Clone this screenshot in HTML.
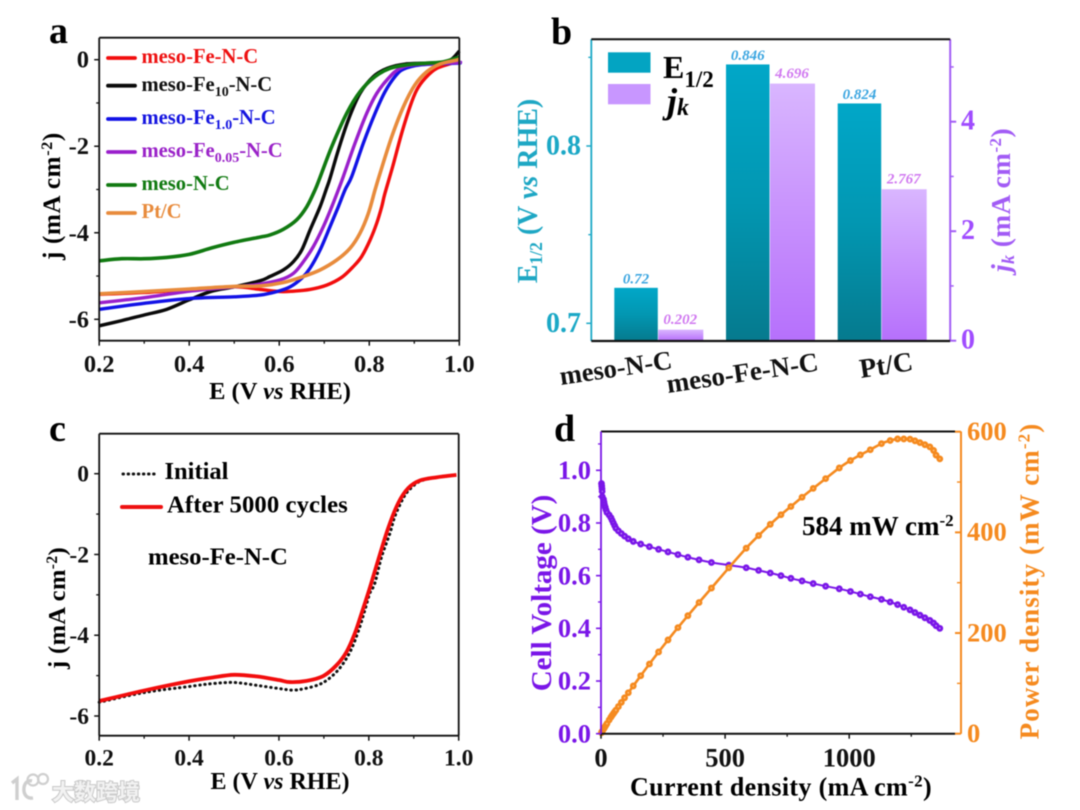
<!DOCTYPE html>
<html lang="en">
<head>
<meta charset="utf-8">
<title>Electrocatalyst performance panels</title>
<style>
html,body{margin:0;padding:0;background:#fff;width:1080px;height:810px;overflow:hidden}
svg{display:block;filter:blur(0.45px)}
text{font-family:"Liberation Serif","Noto Sans CJK SC",serif;font-weight:bold}
</style>
</head>
<body>
<svg id="fig" xmlns="http://www.w3.org/2000/svg" width="1080" height="810" viewBox="0 0 1080 810">
  <defs>
    <linearGradient id="tealGrad" x1="0" y1="0" x2="0" y2="1"><stop offset="0" stop-color="#01a7c8"/><stop offset="0.5" stop-color="#0297b2"/><stop offset="1" stop-color="#067a8e"/></linearGradient>
    <linearGradient id="purpleGrad" x1="0" y1="0" x2="0" y2="1"><stop offset="0" stop-color="#d9b6ff"/><stop offset="0.5" stop-color="#c892fd"/><stop offset="1" stop-color="#b670fc"/></linearGradient>
  </defs>

  <text x="49" y="43" font-size="38">a</text>
  <text x="551" y="44" font-size="38">b</text>
  <text x="49" y="441" font-size="38">c</text>
  <text x="554" y="441" font-size="38">d</text>

  <!-- Panel a static text -->
  <g font-size="20.6">
    <text x="141.5" y="63" fill="#ee1111">meso-Fe-N-C</text>
    <text x="141.5" y="91" fill="#111">meso-Fe<tspan font-size="14" dy="5">10</tspan><tspan dy="-5">-N-C</tspan></text>
    <text x="141.5" y="124" fill="#1414e0">meso-Fe<tspan font-size="14" dy="5">1.0</tspan><tspan dy="-5">-N-C</tspan></text>
    <text x="141.5" y="157" fill="#9a22c8">meso-Fe<tspan font-size="14" dy="5">0.05</tspan><tspan dy="-5">-N-C</tspan></text>
    <text x="141.5" y="190" fill="#117a11">meso-N-C</text>
    <text x="141.5" y="218" fill="#e88b3c">Pt/C</text>
  </g>
  <text x="280" y="399" font-size="24.5" text-anchor="middle">E (V <tspan font-style="italic">vs</tspan> RHE)</text>
  <text transform="translate(60,196) rotate(-90)" font-size="25" letter-spacing="0.7" text-anchor="middle">j (mA cm<tspan font-size="16" dy="-8">-2</tspan><tspan dy="8">)</tspan></text>

  <!-- Panel b static text -->
  <rect x="608" y="52.3" width="42.5" height="20.4" fill="#03a4c2"/>
  <rect x="608" y="84" width="42.5" height="20.3" fill="#c896ff"/>
  <text x="663" y="78" font-size="32">E<tspan font-size="23" dy="9">1/2</tspan></text>
  <text x="667" y="113" font-size="36" font-style="italic">j<tspan font-size="24" dy="2">k</tspan></text>
  <text transform="translate(537,191) rotate(-90)" font-size="28" text-anchor="middle" fill="#1ea7c4">E<tspan font-size="17.5" dy="5">1/2</tspan><tspan dy="-5"> (V </tspan><tspan font-style="italic">vs</tspan> RHE)</text>
  <text transform="translate(1010,200) rotate(-90)" font-size="27.5" letter-spacing="0.4" text-anchor="middle" fill="#a25cf5"><tspan font-style="italic">j</tspan><tspan font-style="italic" font-size="18" dy="4">k</tspan><tspan dy="-4"> (mA cm</tspan><tspan font-size="17" dy="-9">-2</tspan><tspan dy="9">)</tspan></text>

  <!-- Panel c static text -->
  <line x1="123" y1="474" x2="158" y2="474" stroke="#111" stroke-width="3" stroke-linecap="round" stroke-dasharray="0.5 4.6"/>
  <text x="164.5" y="479" font-size="24.5">Initial</text>
  <line x1="122" y1="507" x2="161" y2="507" stroke="#ee1111" stroke-width="4" stroke-linecap="round"/>
  <text x="167" y="512.7" font-size="24.7" letter-spacing="0.1">After 5000 cycles</text>
  <text x="148" y="564.7" font-size="24.7">meso-Fe-N-C</text>
  <text x="280" y="789" font-size="24" text-anchor="middle">E (V <tspan font-style="italic">vs</tspan> RHE)</text>
  <text transform="translate(65,608) rotate(-90)" font-size="24.5" letter-spacing="0.4" text-anchor="middle">j (mA cm<tspan font-size="15.5" dy="-8">-2</tspan><tspan dy="8">)</tspan></text>

  <!-- Panel d static text -->
  <text transform="translate(551,593) rotate(-90)" font-size="29" text-anchor="middle" fill="#7a16e8">Cell Voltage (V)</text>
  <text transform="translate(1038.5,581) rotate(-90)" font-size="27" letter-spacing="1.1" text-anchor="middle" fill="#f58a1f">Power density (mW cm<tspan font-size="17" dy="-9">-2</tspan><tspan dy="9">)</tspan></text>
  <text x="781" y="795.7" font-size="26" letter-spacing="0.35" text-anchor="middle">Current density (mA cm<tspan font-size="17" dy="-9">-2</tspan><tspan dy="9">)</tspan></text>
  <text x="802" y="535" font-size="27">584 mW cm<tspan font-size="17" dy="-9">-2</tspan></text>

  <!-- Watermark -->
  <g>
    <path d="M12 783 L17 779 L17 800 M32 781 C22 778 20 800 33 798" fill="none" stroke="#cfcfcf" stroke-width="3.4"/>
    <circle cx="33" cy="780" r="5.5" fill="none" stroke="#cfcfcf" stroke-width="2.2"/>
    <circle cx="43" cy="779" r="5" fill="none" stroke="#cfcfcf" stroke-width="2.2"/>
    <text x="52" y="800" font-size="22" fill="#f2f2f2" stroke="#c8c8c8" stroke-width="2" paint-order="stroke fill" font-weight="normal" style="font-family:'Liberation Sans','Noto Sans CJK SC',sans-serif">大数跨境</text>
  </g>

  <g id="layer"></g>
</svg>
<script>
// ---------- Panel a: LSV curves ----------
const aRedE = [0.2,0.3,0.4,0.5,0.5573,0.6017,0.6313,0.6683,0.7054,0.7388,0.7646,0.783,0.8017,0.8165,0.8276,0.8345,0.852,0.872,0.8905,0.9054,0.924,0.95,0.994,1.0];
const aRedJ = [-5.42,-5.38,-5.31,-5.25,-5.31,-5.36,-5.35,-5.31,-5.21,-5.03,-4.78,-4.55,-4.17,-3.78,-3.4,-3.1,-2.47,-1.7,-1.085,-0.7,-0.43,-0.2,-0.05,-0.02];
const aBlackE = [0.2,0.25,0.3,0.35,0.4,0.45,0.5,0.5573,0.5795,0.609,0.6313,0.6499,0.6683,0.6906,0.7039,0.7128,0.7312,0.7535,0.7794,0.809,0.84,0.88,0.95,0.98,1.0];
const aBlackJ = [-6.15,-6.03,-5.9,-5.77,-5.55,-5.35,-5.25,-5.11,-5.01,-4.86,-4.67,-4.4,-3.94,-3.4,-3.01,-2.74,-2.09,-1.39,-0.78,-0.39,-0.2,-0.1,-0.07,-0.01,0.2];
const aBlueE = [0.2,0.3,0.4,0.5,0.5573,0.5944,0.6239,0.6499,0.6683,0.6906,0.7128,0.7312,0.7461,0.761,0.7868,0.8128,0.835,0.8572,0.8757,0.9127,0.994,1.0];
const aBlueJ = [-5.77,-5.63,-5.52,-5.48,-5.44,-5.36,-5.25,-5.05,-4.82,-4.4,-3.86,-3.4,-3.01,-2.7,-1.93,-1.24,-0.74,-0.39,-0.22,-0.12,-0.08,-0.08];
const aPurpleE = [0.2,0.3,0.4,0.5,0.55,0.6017,0.6313,0.6535,0.6757,0.6979,0.7166,0.7312,0.7423,0.7683,0.7943,0.8165,0.8424,0.8683,0.9054,0.994,1.0];
const aPurpleJ = [-5.62,-5.5,-5.35,-5.25,-5.2,-5.09,-4.94,-4.67,-4.32,-3.86,-3.4,-3.01,-2.7,-1.93,-1.24,-0.78,-0.43,-0.2,-0.11,-0.07,-0.05];
const aGreenE = [0.2,0.25,0.3,0.35,0.4,0.45,0.5,0.5573,0.5795,0.609,0.6388,0.661,0.6795,0.6906,0.7166,0.7499,0.7794,0.8128,0.8461,0.8832,0.9276,0.9645,0.994,1.0];
const aGreenJ = [-4.65,-4.6,-4.6,-4.57,-4.5,-4.35,-4.22,-4.1,-4.05,-3.92,-3.7,-3.4,-3.01,-2.72,-2.01,-1.24,-0.74,-0.39,-0.2,-0.12,-0.08,-0.05,0.04,0.06];
const aOrangeE = [0.2,0.3,0.4,0.5,0.5573,0.609,0.6535,0.6906,0.7277,0.7572,0.7794,0.798,0.8128,0.8238,0.8499,0.8757,0.9016,0.9276,0.9572,0.994,1.0];
const aOrangeJ = [-5.41,-5.36,-5.3,-5.24,-5.23,-5.15,-5.01,-4.86,-4.63,-4.36,-4.01,-3.55,-3.01,-2.63,-1.78,-1.09,-0.58,-0.28,-0.1,-0.01,0.02];
const aXTicks = ["0.2","0.4","0.6","0.8","1.0"];
const aYTicks = ["0","-2","-4","-6"];

// ---------- Panel b: bars ----------
const bCategories = ["meso-N-C","meso-Fe-N-C","Pt/C"];
const bE12 = [0.72,0.846,0.824];
const bJk = [0.202,4.696,2.767];
const bE12Labels = ["0.72","0.846","0.824"];
const bJkLabels = ["0.202","4.696","2.767"];
const bLeftTicks = ["0.7","0.8"];
const bRightTicks = ["0","2","4"];

// ---------- Panel c: durability ----------
const cInitialE = [0.2,0.3,0.4,0.45,0.5,0.55,0.6,0.6317,0.6577,0.6874,0.7096,0.7319,0.7505,0.7653,0.78,0.7912,0.8023,0.8135,0.8284,0.8469,0.8579,0.8764,0.89,0.9135,0.95,0.995];
const cInitialJ = [-5.66,-5.42,-5.27,-5.2,-5.17,-5.24,-5.32,-5.36,-5.32,-5.23,-5.09,-4.86,-4.57,-4.24,-3.79,-3.38,-2.96,-2.71,-2.06,-1.48,-1.06,-0.61,-0.4,-0.19,-0.09,-0.03];
const cAfterE = [0.2,0.3,0.4,0.45,0.5,0.55,0.6,0.6244,0.6615,0.6985,0.7283,0.7505,0.769,0.7838,0.8008,0.8208,0.843,0.8653,0.8875,0.9135,0.9507,0.995];
const cAfterJ = [-5.63,-5.37,-5.14,-5.05,-4.98,-5.02,-5.11,-5.16,-5.13,-5.01,-4.74,-4.41,-3.95,-3.46,-2.88,-2.14,-1.35,-0.73,-0.36,-0.17,-0.09,-0.03];
const cXTicks = ["0.2","0.4","0.6","0.8","1.0"];
const cYTicks = ["0","-2","-4","-6"];

// ---------- Panel d: fuel cell ----------
const dCurrent = [2,3,4,4.5,5,10,12,14,17,20,24,33,40,45,50,55,60,70,82,95,110,130,160,195,232,270,310,350,395,445,515,585,635,682,725,765,810,855,905,960,1005,1045,1085,1130,1165,1195,1220,1245,1265,1285,1305,1325,1340,1350,1365];
const dVoltage = [0.95,0.94,0.93,0.92,0.90,0.89,0.88,0.87,0.86,0.85,0.84,0.83,0.82,0.81,0.80,0.79,0.78,0.77,0.76,0.75,0.74,0.73,0.72,0.71,0.70,0.69,0.68,0.67,0.66,0.65,0.64,0.63,0.62,0.61,0.60,0.59,0.58,0.57,0.56,0.55,0.54,0.53,0.52,0.51,0.50,0.49,0.48,0.47,0.46,0.45,0.44,0.43,0.42,0.41,0.40];
const dPower = [2,3,4,4,4.5,9,10.6,12.2,14.6,17,20.2,27.4,32.8,36.5,40,43.5,46.8,53.9,62.3,71.3,81.4,94.9,115.2,138.5,162.4,186.3,210.8,234.5,260.7,289.3,329.6,368.6,393.7,416,435,451.4,469.8,487.4,506.8,528,542.7,553.9,564.2,576.3,582.5,585.6,585.6,585.2,581.9,578.3,574.2,569.8,562.8,553.5,546];
const dXTicks = ["0","500","1000"];
const dLeftTicks = ["0.0","0.2","0.4","0.6","0.8","1.0"];
const dRightTicks = ["0","200","400","600"];

// ---------- Helpers ----------
const NS = "http://www.w3.org/2000/svg";
const layer = document.getElementById("layer");
function linear(d0, d1, r0, r1) { return v => r0 + (v - d0) * (r1 - r0) / (d1 - d0); }
function drawLine(x1, y1, x2, y2, color, width, name) {
  const el = document.createElementNS(NS, "line");
  el.setAttribute("x1", x1); el.setAttribute("y1", y1);
  el.setAttribute("x2", x2); el.setAttribute("y2", y2);
  el.setAttribute("stroke", color); el.setAttribute("stroke-width", width);
  
  
  layer.appendChild(el);
  return el;
}
function drawText(str, x, y, size, color, anchor, name, extra) {
  const el = document.createElementNS(NS, "text");
  el.setAttribute("x", x); el.setAttribute("y", y);
  el.setAttribute("font-size", size); el.setAttribute("fill", color);
  el.setAttribute("text-anchor", anchor);
  if (extra && extra.italic) el.setAttribute("font-style", "italic");
  if (extra && extra.transform) el.setAttribute("transform", extra.transform);
  el.textContent = str;
  
  
  layer.appendChild(el);
  return el;
}
function smoothPath(xs, ys, fx, fy) {
  const p = xs.map((x, i) => [fx(x), fy(ys[i])]);
  let d = "M" + p[0][0].toFixed(2) + " " + p[0][1].toFixed(2);
  for (let i = 0; i < p.length - 1; i++) {
    const a = p[Math.max(i - 1, 0)], b = p[i], c = p[i + 1], e = p[Math.min(i + 2, p.length - 1)];
    const c1x = b[0] + (c[0] - a[0]) / 6, c1y = b[1] + (c[1] - a[1]) / 6;
    const c2x = c[0] - (e[0] - b[0]) / 6, c2y = c[1] - (e[1] - b[1]) / 6;
    d += "C" + c1x.toFixed(2) + " " + c1y.toFixed(2) + " " + c2x.toFixed(2) + " " + c2y.toFixed(2) + " " + c[0].toFixed(2) + " " + c[1].toFixed(2);
  }
  return d;
}
function drawCurve(xs, ys, fx, fy, color, width, name, dash) {
  const el = document.createElementNS(NS, "path");
  el.setAttribute("d", smoothPath(xs, ys, fx, fy));
  el.setAttribute("fill", "none");
  el.setAttribute("stroke", color);
  el.setAttribute("stroke-width", width);
  el.setAttribute("stroke-linejoin", "round");
  if (dash) {
    el.setAttribute("stroke-dasharray", dash);
    el.setAttribute("stroke-linecap", "round");
  }
  
  
  layer.appendChild(el);
  return el;
}
function drawDot(cx, cy, fill, stroke, name) {
  const el = document.createElementNS(NS, "circle");
  el.setAttribute("cx", cx); el.setAttribute("cy", cy);
  el.setAttribute("r", 2.1);
  el.setAttribute("fill", fill);
  el.setAttribute("stroke", stroke);
  el.setAttribute("stroke-width", 2.6);
  
  
  layer.appendChild(el);
}
function frame(l, t, r, b, color, w, prefix) {
  drawLine(l, t, r, t, color, w, prefix + "-top-spine");
  drawLine(r, t, r, b, color, w, prefix + "-right-spine");
  drawLine(l, b, r, b, color, w, prefix + "-bottom-spine");
  drawLine(l, t, l, b, color, w, prefix + "-left-spine");
}

// ---------- Panel a ----------
(function () {
  const L = 99.2, R = 459.3, T = 37.7, B = 340.7;
  const x = linear(0.2, 1.0, L, R), y = linear(0, -6, 59.7, 319.3);
  drawCurve(aRedE, aRedJ, x, y, "#f20d0d", 3.4, "series-meso-fe-n-c");
  drawCurve(aBlackE, aBlackJ, x, y, "#0a0a0a", 3.4, "series-meso-fe10-n-c");
  drawCurve(aBlueE, aBlueJ, x, y, "#1212e6", 3.4, "series-meso-fe1-n-c");
  drawCurve(aPurpleE, aPurpleJ, x, y, "#9a1fcb", 3.4, "series-meso-fe005-n-c");
  drawCurve(aGreenE, aGreenJ, x, y, "#117a11", 3.6, "series-meso-n-c");
  drawCurve(aOrangeE, aOrangeJ, x, y, "#e88b3c", 3.6, "series-pt-c");
  frame(L, T, R, B, "#111", 1.8, "panel-a");
  aXTicks.forEach(t => {
    const v = parseFloat(t);
    drawLine(x(v), B, x(v), B + 5, "#111", 1.5, "x-tick");
    if (v < 1) drawLine(x(v + 0.1), B, x(v + 0.1), B + 3, "#111", 1.3, "x-minor-tick");
    drawText(t, x(v), 372, 24.5, "#111", "middle", "x-tick-label");
  });
  aYTicks.forEach(t => {
    const v = parseFloat(t);
    drawLine(L - 5, y(v), L, y(v), "#111", 1.5, "y-tick");
    if (v > -6) drawLine(L - 3, y(v - 1), L, y(v - 1), "#111", 1.3, "y-minor-tick");
    drawText(t, 89, y(v) + 8, 24.5, "#111", "end", "y-tick-label");
  });
  [[58, "#f20d0d"], [85.7, "#0a0a0a"], [119, "#1212e6"], [152, "#9a1fcb"], [185, "#117a11"], [213, "#e88b3c"]].forEach(s => {
    const el = drawLine(108, s[0], 135, s[0], s[1], 3.8, "legend-line");
    el.setAttribute("stroke-linecap", "round");
  });
})();

// ---------- Panel b ----------
(function () {
  const L = 591.3, R = 950.2, T = 39.3, B = 341;
  const yE = linear(0.7, 0.8, 323.3, 146), yJ = linear(0, 4, 340.7, 121.7);
  const band = linear(0, 2, 657.8, 881.2);
  const w1 = 43.5, w2 = 45;
  bCategories.forEach((c, i) => {
    const cx = band(i);
    const r1 = document.createElementNS(NS, "rect");
    r1.setAttribute("x", cx - w1); r1.setAttribute("y", yE(bE12[i]));
    r1.setAttribute("width", w1); r1.setAttribute("height", B - yE(bE12[i]));
    r1.setAttribute("fill", "url(#tealGrad)");
    
    
    layer.appendChild(r1);
    const r2 = document.createElementNS(NS, "rect");
    r2.setAttribute("x", cx + 0.5); r2.setAttribute("y", yJ(bJk[i]));
    r2.setAttribute("width", w2); r2.setAttribute("height", B - yJ(bJk[i]));
    r2.setAttribute("fill", "url(#purpleGrad)");
    
    
    layer.appendChild(r2);
    drawText(bE12Labels[i], cx - w1 / 2, yE(bE12[i]) - 4.5, 15, "#3aa5e0", "middle", "bar-e12-value", { italic: true });
    drawText(bJkLabels[i], cx + w2 / 2, yJ(bJk[i]) - 5.5, 15, "#d078f0", "middle", "bar-jk-value", { italic: true });
  });
  drawText(bCategories[0], 561, 385, 26.5, "#111", "start", "category-label", { transform: "rotate(-8.5 561 385)" });
  drawText(bCategories[1], 668, 393, 27, "#111", "start", "category-label", { transform: "rotate(-8.5 668 393)" });
  drawText(bCategories[2], 861, 378, 27.5, "#111", "start", "category-label", { transform: "rotate(-8.5 861 378)" });
  drawLine(L, T, L, B, "#1ba8c6", 1.8, "panel-b-left-spine");
  drawLine(R, T, R, B, "#a25cf5", 2, "panel-b-right-spine");
  drawLine(L, T, R, T, "#111", 2, "panel-b-top-spine");
  drawLine(L, B, R, B, "#111", 2.2, "panel-b-bottom-spine");
  bLeftTicks.forEach(t => {
    const v = parseFloat(t);
    drawLine(L - 5, yE(v), L, yE(v), "#1ba8c6", 1.5, "left-tick");
    drawLine(L - 3, yE(v + 0.05), L, yE(v + 0.05), "#1ba8c6", 1.3, "left-minor-tick");
    drawText(t, 581, yE(v) + 8.5, 28, "#1ba8c6", "end", "left-tick-label");
  });
  bRightTicks.forEach(t => {
    const v = parseFloat(t);
    drawLine(R, yJ(v), R + 6, yJ(v), "#a25cf5", 2, "right-tick");
    drawLine(R, yJ(v + 1), R + 3.5, yJ(v + 1), "#a25cf5", 1.5, "right-minor-tick");
    drawText(t, 961, yJ(v) + 8, 28, "#a04cff", "start", "right-tick-label");
  });
})();

// ---------- Panel c ----------
(function () {
  const L = 99.2, R = 458.7, T = 433.7, B = 735.7;
  const x = linear(0.2, 1.0, L, R), y = linear(0, -6, 473.7, 716);
  drawCurve(cInitialE, cInitialJ, x, y, "#111", 3, "series-initial", "0.5 4.6");
  drawCurve(cAfterE, cAfterJ, x, y, "#f20d0d", 3.8, "series-after-5000-cycles");
  frame(L, T, R, B, "#111", 1.8, "panel-c");
  cXTicks.forEach(t => {
    const v = parseFloat(t);
    drawLine(x(v), B, x(v), B + 5, "#111", 1.5, "x-tick");
    if (v < 1) drawLine(x(v + 0.1), B, x(v + 0.1), B + 3, "#111", 1.3, "x-minor-tick");
    drawText(t, x(v), 765.5, 23.5, "#111", "middle", "x-tick-label");
  });
  cYTicks.forEach(t => {
    const v = parseFloat(t);
    drawLine(L - 5, y(v), L, y(v), "#111", 1.5, "y-tick");
    if (v > -6) drawLine(L - 3, y(v - 1), L, y(v - 1), "#111", 1.3, "y-minor-tick");
    drawText(t, 89, y(v) + 8, 23.5, "#111", "end", "y-tick-label");
  });
})();

// ---------- Panel d ----------
(function () {
  const L = 601, R = 955, RA = 961, T = 431.5, B = 733.7;
  const x = linear(0, 1000, 601, 849.2);
  const yV = linear(0, 1, 733.7, 470.3), yP = linear(0, 600, 733.7, 431.7);
  drawCurve(dCurrent, dVoltage, x, yV, "#7a16e8", 2, "voltage-line");
  dCurrent.forEach((c, i) => drawDot(x(c), yV(dVoltage[i]), "#c6a2f5", "#7a16e8", "voltage-point"));
  drawCurve(dCurrent, dPower, x, yP, "#f58a1f", 2.6, "power-line");
  dCurrent.forEach((c, i) => drawDot(x(c), yP(dPower[i]), "#fcc88c", "#f58a1f", "power-point"));
  drawLine(L, T, R, T, "#111", 2, "panel-d-top-spine");
  drawLine(L, B, R, B, "#111", 2, "panel-d-bottom-spine");
  drawLine(L, T, L, B, "#7a16e8", 1.8, "panel-d-left-spine");
  drawLine(RA, T, RA, B, "#f58a1f", 2, "panel-d-right-spine");
  dXTicks.forEach(t => {
    const v = parseFloat(t);
    drawLine(x(v), B, x(v), B + 5, "#111", 1.5, "x-tick");
    drawLine(x(v + 250), B, x(v + 250), B + 3, "#111", 1.3, "x-minor-tick");
    drawText(t, x(v), 766.7, 26.5, "#111", "middle", "x-tick-label");
  });
  dLeftTicks.forEach(t => {
    const v = parseFloat(t);
    drawLine(L - 5, yV(v), L, yV(v), "#7a16e8", 1.6, "left-tick");
    drawLine(L - 3, yV(v + 0.1), L, yV(v + 0.1), "#7a16e8", 1.3, "left-minor-tick");
    drawText(t, 591, yV(v) + 8.7, 26.5, "#7a16e8", "end", "left-tick-label");
  });
  dRightTicks.forEach(t => {
    const v = parseFloat(t);
    drawLine(955, yP(v), RA, yP(v), "#f58a1f", 2, "right-tick");
    if (v < 600) drawLine(957, yP(v + 100), RA, yP(v + 100), "#f58a1f", 1.4, "right-minor-tick");
    drawText(t, 967, yP(v) + 8.3, 26.5, "#f58a1f", "start", "right-tick-label");
  });
})();
</script>
</body>
</html>
